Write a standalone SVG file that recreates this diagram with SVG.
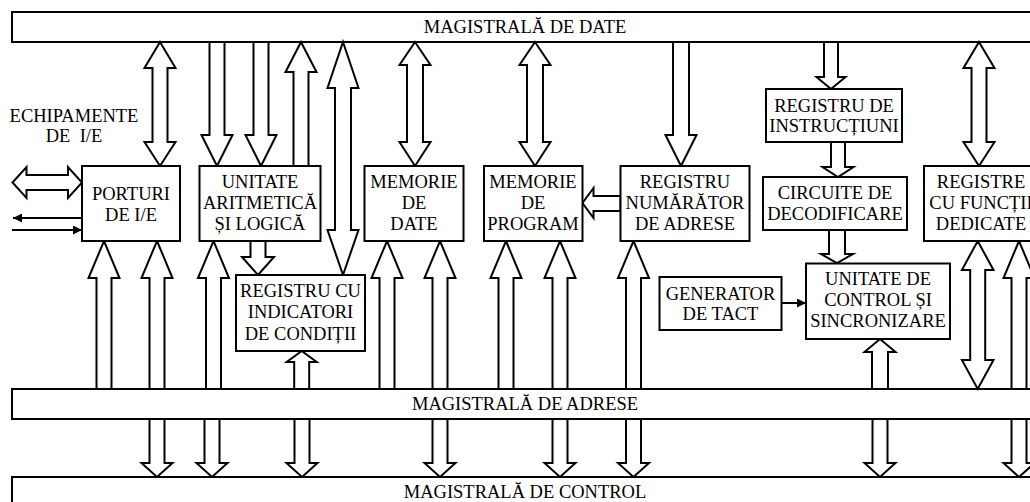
<svg xmlns="http://www.w3.org/2000/svg" width="1030" height="502" viewBox="0 0 1030 502">
<defs>
<style>
.bus{fill:#fff;stroke:#000;stroke-width:2}
.box{fill:#fff;stroke:#000;stroke-width:2}
.ar{fill:#fff;stroke:#000;stroke-width:2;stroke-linejoin:miter}
.ln{fill:none;stroke:#000;stroke-width:2}
text{font-family:"Liberation Serif","Times New Roman",serif;font-size:18.5px;fill:#000;text-anchor:middle}
</style>
<marker id="tri" viewBox="0 0 10 10" refX="10" refY="5" markerWidth="5" markerHeight="4.5" markerUnits="strokeWidth" orient="auto">
<path d="M0,0 L10,5 L0,10 Z" fill="#000"/>
</marker>
</defs>
<rect width="1030" height="502" fill="#fff"/>
<g id="bus-date"><rect class="bus" x="12" y="12" width="1040" height="30"/><text x="525" y="33">MAGISTRALĂ DE DATE</text></g>
<g id="bus-adrese"><rect class="bus" x="12" y="389" width="1040" height="30"/><text x="525" y="410">MAGISTRALĂ DE ADRESE</text></g>
<g id="bus-control"><rect class="bus" x="12" y="477" width="1040" height="40"/><text x="525" y="498">MAGISTRALĂ DE CONTROL</text></g>
<g id="connectors">
<polygon class="ar" points="160,42 175.5,68 167.5,68 167.5,142 175.5,142 160,166 144.5,142 152.5,142 152.5,68 144.5,68"/>
<polygon class="ar" points="209.5,42 224.5,42 224.5,135 232.5,135 217,166 201.5,135 209.5,135"/>
<polygon class="ar" points="253.5,42 268.5,42 268.5,135 276.5,135 261,166 245.5,135 253.5,135"/>
<polygon class="ar" points="301,42 316.5,72 308.5,72 308.5,166 293.5,166 293.5,72 285.5,72"/>
<polygon class="ar" points="343,42 358.5,88 351,88 351,230 358.5,230 343,275 327.5,230 335,230 335,88 327.5,88"/>
<polygon class="ar" points="250.5,241 265.5,241 265.5,257 274,257 258,275 242,257 250.5,257"/>
<polygon class="ar" points="415,42 430.5,65 423,65 423,142 430.5,142 415,166 399.5,142 407,142 407,65 399.5,65"/>
<polygon class="ar" points="535,42 550.5,65 543,65 543,142 550.5,142 535,166 519.5,142 527,142 527,65 519.5,65"/>
<polygon class="ar" points="673,42 689,42 689,135 696.5,135 681,166 665.5,135 673,135"/>
<polygon class="ar" points="824,42 838,42 838,77 845.5,77 831,89 816.5,77 824,77"/>
<polygon class="ar" points="831,142 845,142 845,167 853.5,167 838,177 822.5,167 831,167"/>
<polygon class="ar" points="829,230 845,230 845,254 853,254 837,263 821,254 829,254"/>
<polygon class="ar" points="979,42 994.5,68 986.5,68 986.5,142 994.5,142 979,166 963.5,142 971.5,142 971.5,68 963.5,68"/>
<polygon class="ar" points="582.5,203 593.5,188 593.5,196 620.5,196 620.5,211 593.5,211 593.5,218"/>
<polygon class="ar" points="12.5,182.5 26.5,167 26.5,175 68,175 68,167 82,182.5 68,198 68,190 26.5,190 26.5,198"/>
<line class="ln" x1="82" y1="218" x2="13" y2="218" marker-end="url(#tri)"/>
<line class="ln" x1="12" y1="230" x2="82" y2="230" marker-end="url(#tri)"/>
<line class="ln" x1="782" y1="303" x2="806" y2="303" marker-end="url(#tri)"/>
<polygon class="ar" points="104,241 119.5,278 111.5,278 111.5,389 96.5,389 96.5,278 88.5,278"/>
<polygon class="ar" points="157,241 172.5,278 164.5,278 164.5,389 149.5,389 149.5,278 141.5,278"/>
<polygon class="ar" points="213.5,241 229,278 221,278 221,389 206,389 206,278 198,278"/>
<polygon class="ar" points="387,241 402.5,278 394.5,278 394.5,389 379.5,389 379.5,278 371.5,278"/>
<polygon class="ar" points="440,241 455.5,278 447.5,278 447.5,389 432.5,389 432.5,278 424.5,278"/>
<polygon class="ar" points="506,241 521.5,278 513.5,278 513.5,389 498.5,389 498.5,278 490.5,278"/>
<polygon class="ar" points="560,241 575.5,278 567.5,278 567.5,389 552.5,389 552.5,278 544.5,278"/>
<polygon class="ar" points="633.5,241 649,278 641,278 641,389 626,389 626,278 618,278"/>
<polygon class="ar" points="1019,241 1034.5,278 1026.5,278 1026.5,389 1011.5,389 1011.5,278 1003.5,278"/>
<polygon class="ar" points="301.7,351 316.7,362 309.2,362 309.2,389 294.2,389 294.2,362 286.7,362"/>
<polygon class="ar" points="880,339 895.5,352 888,352 888,389 872,389 872,352 864.5,352"/>
<polygon class="ar" points="977.7,241 993.5,270 985.2,270 985.2,360 993.5,360 977.7,389 961.9,360 970.2,360 970.2,270 961.9,270"/>
<polygon class="ar" points="149.5,419 164.5,419 164.5,463 172.5,463 157,477 141.5,463 149.5,463"/>
<polygon class="ar" points="204.5,419 219.5,419 219.5,463 227.5,463 212,477 196.5,463 204.5,463"/>
<polygon class="ar" points="294.5,419 309.5,419 309.5,463 317.5,463 302,477 286.5,463 294.5,463"/>
<polygon class="ar" points="432.5,419 447.5,419 447.5,463 455.5,463 440,477 424.5,463 432.5,463"/>
<polygon class="ar" points="552.5,419 567.5,419 567.5,463 575.5,463 560,477 544.5,463 552.5,463"/>
<polygon class="ar" points="626,419 641,419 641,463 649,463 633.5,477 618,463 626,463"/>
<polygon class="ar" points="872.5,419 887.5,419 887.5,463 895.5,463 880,477 864.5,463 872.5,463"/>
<polygon class="ar" points="1011.5,419 1026.5,419 1026.5,463 1034.5,463 1019,477 1003.5,463 1011.5,463"/>
</g>
<g id="echipamente"><text x="74" y="122">ECHIPAMENTE</text><text x="74" y="142" xml:space="preserve">DE  I/E</text></g>
<g id="porturi"><rect class="box" x="82" y="166" width="98" height="75"/><text x="131" y="200">PORTURI</text><text x="131" y="221">DE I/E</text></g>
<g id="alu"><rect class="box" x="199.5" y="166" width="121" height="75"/><text x="260" y="188">UNITATE</text><text x="260" y="209">ARITMETICĂ</text><text x="260" y="230">ȘI LOGICĂ</text></g>
<g id="memorie-date"><rect class="box" x="364.5" y="166" width="99" height="75"/><text x="414" y="188">MEMORIE</text><text x="414" y="209">DE</text><text x="414" y="230">DATE</text></g>
<g id="memorie-program"><rect class="box" x="484" y="166" width="98.5" height="75"/><text x="533" y="188">MEMORIE</text><text x="533" y="209">DE</text><text x="533" y="230">PROGRAM</text></g>
<g id="registru-numarator"><rect class="box" x="620.5" y="166" width="129" height="75"/><text x="685" y="188">REGISTRU</text><text x="685" y="209">NUMĂRĂTOR</text><text x="685" y="230">DE ADRESE</text></g>
<g id="registru-instructiuni"><rect class="box" x="766" y="89" width="136" height="53"/><text x="834" y="112">REGISTRU DE</text><text x="834" y="132">INSTRUCȚIUNI</text></g>
<g id="circuite-decodificare"><rect class="box" x="763" y="177" width="144" height="53"/><text x="835" y="199">CIRCUITE DE</text><text x="835" y="220">DECODIFICARE</text></g>
<g id="registre-dedicate"><rect class="box" x="924" y="166" width="120" height="75"/><text x="981" y="188">REGISTRE</text><text x="981" y="209">CU FUNCȚII</text><text x="981" y="230">DEDICATE</text></g>
<g id="registru-indicatori"><rect class="box" x="236" y="275" width="129" height="76"/><text x="300.5" y="297">REGISTRU CU</text><text x="300.5" y="318">INDICATORI</text><text x="300.5" y="340">DE CONDIȚII</text></g>
<g id="generator-tact"><rect class="box" x="659.5" y="277" width="122" height="53"/><text x="720.5" y="299.5">GENERATOR</text><text x="720.5" y="320">DE TACT</text></g>
<g id="unitate-control"><rect class="box" x="806" y="263.5" width="144" height="75.5"/><text x="878" y="285">UNITATE DE</text><text x="878" y="306">CONTROL ȘI</text><text x="878" y="327">SINCRONIZARE</text></g>
</svg>
